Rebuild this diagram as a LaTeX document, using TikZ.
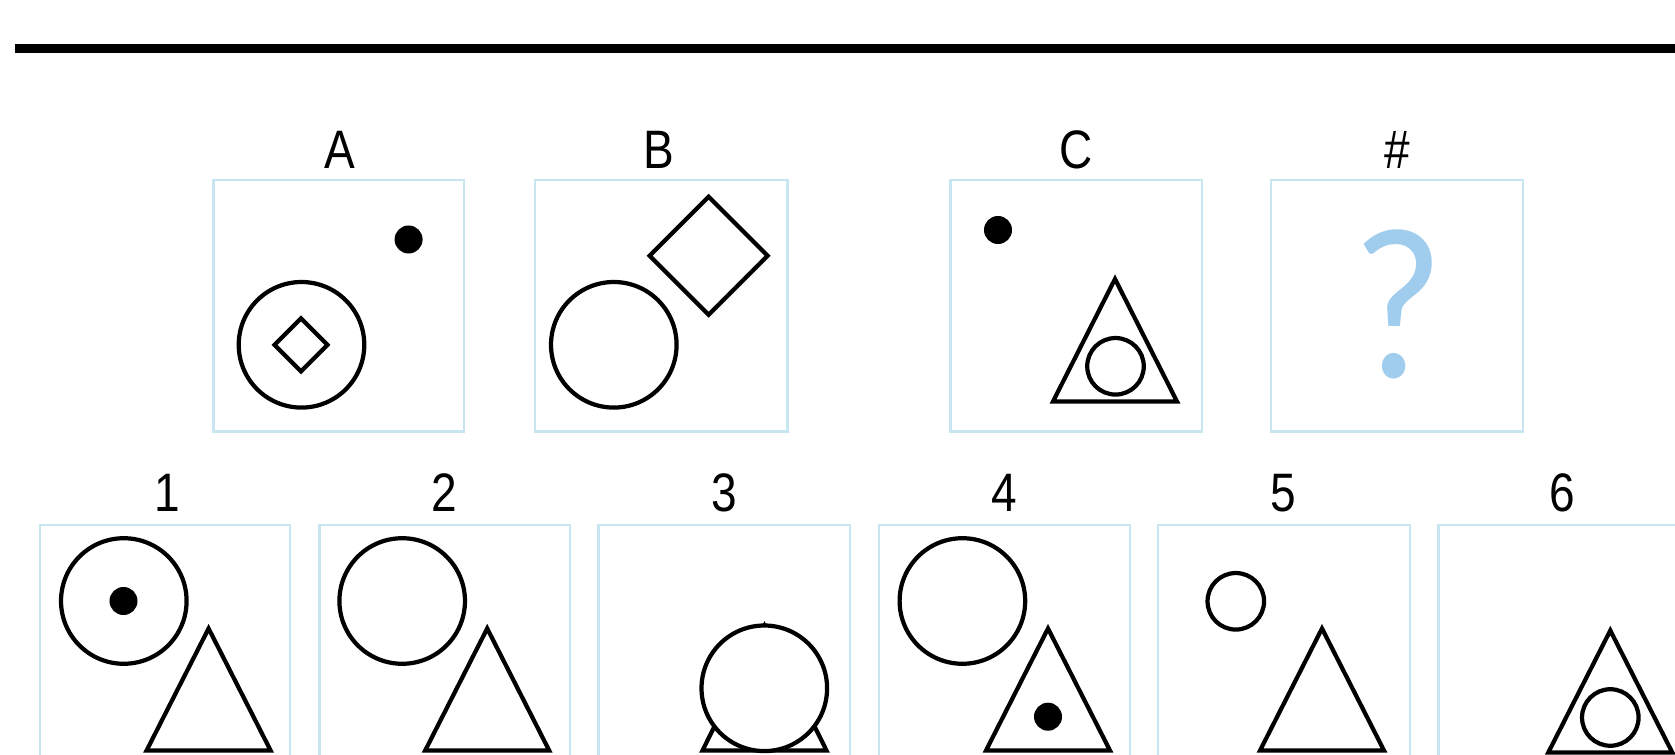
\documentclass[tikz,border=0pt]{standalone}
\usepackage{fontspec}
\setmainfont{Liberation Sans}
\newfontfamily\qfont{Lato}
\definecolor{panelblue}{RGB}{200,230,242}
\definecolor{qblue}{RGB}{160,204,238}
\newcommand{\mytri}[3]{\draw[fig] (#1,#2) -- ({#1-62},{#2+#3}) -- ({#1+62},{#2+#3}) -- cycle;}
\begin{document}
\begin{tikzpicture}[x=0.01cm,y=-0.01cm,
  panel/.style={draw=panelblue, line width=0.7pt},
  fig/.style={draw=black, line width=1.2pt},
  dotf/.style={fill=black},
  lab/.style={font=\fontsize{15.4}{18}\selectfont, anchor=base, inner sep=0pt, xscale=0.85}]
\useasboundingbox (0,0) rectangle (1675,755);
\clip (0,0) rectangle (1675,755);
\fill[white] (0,0) rectangle (1675,755);
% top bar
\fill[black] (15,44) rectangle (1675,53.5);
% top panels
\draw[panel] (213.5,180) rectangle (464,431.5);
\draw[panel] (535,180) rectangle (787.5,431.5);
\draw[panel] (950.5,180) rectangle (1202,431.5);
\draw[panel] (1271,180) rectangle (1523,431.5);
% bottom panels
\draw[panel] (40,525) rectangle (290,800);
\draw[panel] (319.5,525) rectangle (570,800);
\draw[panel] (598.5,525) rectangle (850,800);
\draw[panel] (879,525) rectangle (1130,800);
\draw[panel] (1158,525) rectangle (1410,800);
\draw[panel] (1438.5,525) rectangle (1690,800);
% labels
\node[lab] (lA) at (339.7,168.3) {A};
\node[lab] (lB) at (659,168.3) {B};
\node[lab] (lC) at (1076,168.3) {C};
\node[lab] (lH) at (1397,168.3) {\#};
\node[lab] (l1) at (167,511.7) {1};
\node[lab] (l2) at (444.7,511.7) {2};
\node[lab] (l3) at (724.6,511.7) {3};
\node[lab] (l4) at (1004,511.7) {4};
\node[lab] (l5) at (1283.5,511.7) {5};
\node[lab] (l6) at (1562.5,511.7) {6};
% A
\fill[dotf] (408.6,239.5) circle[radius=0.14cm];
\draw[fig] (301.5,344.8) circle[radius=0.6275cm];
\draw[fig] (301,318.3) -- (327.5,344.8) -- (301,371.3) -- (274.5,344.8) -- cycle;
% B
\draw[fig] (613.8,344.8) circle[radius=0.6275cm];
\draw[fig] (708.6,196.7) -- (767.6,255.7) -- (708.6,314.7) -- (649.6,255.7) -- cycle;
% C
\fill[dotf] (998,230) circle[radius=0.14cm];
\mytri{1115}{279}{122.5}
\draw[fig] (1115.5,366.3) circle[radius=0.2825cm];
% #
\node[font=\qfont\fontsize{58}{62}\selectfont, text=qblue, anchor=base, inner sep=0pt, xscale=0.92] (q) at (1398,378) {?};
% 1
\draw[fig] (123.8,601) circle[radius=0.6275cm];
\fill[dotf] (123.5,601) circle[radius=0.14cm];
\mytri{208.6}{628.5}{122}
% 2
\draw[fig] (402.2,601) circle[radius=0.6275cm];
\mytri{487.2}{628.5}{122}
% 3
\mytri{764.5}{625.8}{124.7}
\draw[fig, fill=white] (764.3,688.3) circle[radius=0.6275cm];
% 4
\draw[fig] (962.4,601) circle[radius=0.6275cm];
\mytri{1048}{628.5}{122}
\fill[dotf] (1048,716.7) circle[radius=0.14cm];
% 5
\draw[fig] (1235.8,601.3) circle[radius=0.2825cm];
\mytri{1322}{628.5}{122}
% 6
\mytri{1610.3}{630.5}{122}
\draw[fig] (1610.3,717.5) circle[radius=0.2825cm];
\end{tikzpicture}
\end{document}
